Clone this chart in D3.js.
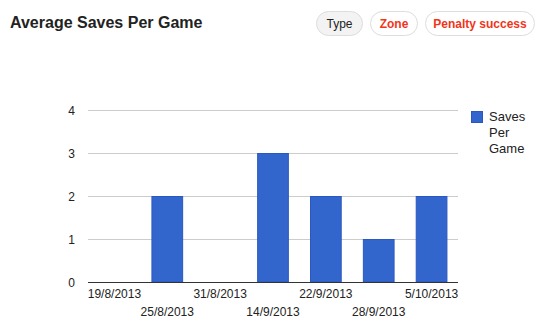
<!DOCTYPE html>
<html>
<head>
<meta charset="utf-8">
<script src="https://cdn.jsdelivr.net/npm/d3@7"></script>
<style>
body { margin:0; background:#fff; font-family: Arial, "Liberation Sans", sans-serif; }
#title { position:absolute; left:10px; top:14px; font-size:16px; font-weight:bold; color:#222; }
.pill { position:absolute; top:11px; height:25px; line-height:24px; border:1px solid #ddd; border-radius:13px;
  font-size:12px; font-weight:bold; text-align:center; background:#fff; color:#f2341b; box-sizing:border-box; }
.pill.on { background:#f3f3f3; color:#222; font-weight:normal; }
</style>
</head>
<body>
<div id="title">Average Saves Per Game</div>
<div class="pill on" style="left:316px;width:47px">Type</div>
<div class="pill" style="left:370px;width:48px">Zone</div>
<div class="pill" style="left:425px;width:110px">Penalty success</div>
<svg id="chart" width="544" height="327" style="position:absolute;left:0;top:0"></svg>

<script>
// chart data
var dates = ["19/8/2013", "25/8/2013", "31/8/2013", "14/9/2013", "22/9/2013", "28/9/2013", "5/10/2013"]
var saves = [0, 2, 0, 3, 2, 1, 2]
var yTicks = [0, 1, 2, 3, 4]
var seriesName = ["Saves", "Per", "Game"]

var svg = d3.select("#chart")
var plotLeft = 88, plotRight = 458, plotTop = 110, plotBottom = 282

var x = d3.scaleBand().domain(dates).range([plotLeft, plotRight]).paddingInner(0.4).paddingOuter(0.2)
var y = d3.scaleLinear().domain([0, 4]).range([plotBottom, plotTop])

// gridlines
svg.selectAll(".grid").data(yTicks).enter().append("line")
	.attr("x1", plotLeft).attr("x2", plotRight)
	.attr("y1", function(d){ return y(d) + 0.5 }).attr("y2", function(d){ return y(d) + 0.5 })
	.attr("stroke", "#ccc")

// y labels
svg.selectAll(".ylab").data(yTicks).enter().append("text")
	.attr("x", 75).attr("y", function(d){ return y(d) + 4.5 })
	.attr("text-anchor", "end")
	.attr("fill", "#222")
	.style("font-size", "12px")
	.text(function(d){ return d })

// bars
svg.selectAll(".bar").data(saves).enter().append("rect")
	.attr("x", function(d,i){ return x(dates[i]) + 0.5 })
	.attr("y", function(d){ return y(d) + 0.5 })
	.attr("width", x.bandwidth() - 1)
	.attr("height", function(d){ return Math.max(0, plotBottom - y(d) - 0.5) })
	.attr("fill", "#3366cc")
	.attr("stroke", "#2a58c0")
	.style("visibility", function(d){ return d > 0 ? "visible" : "hidden" })

// baseline
svg.append("line")
	.attr("x1", plotLeft).attr("x2", plotRight)
	.attr("y1", plotBottom + 0.5).attr("y2", plotBottom + 0.5)
	.attr("stroke", "#333")

// x labels, alternating rows
svg.selectAll(".xlab").data(dates).enter().append("text")
	.attr("x", function(d){ return x(d) + x.bandwidth()/2 })
	.attr("y", function(d,i){ return i % 2 ? 316 : 298 })
	.attr("text-anchor", "middle")
	.attr("fill", "#222")
	.style("font-size", "12px")
	.text(function(d){ return d })

// legend
svg.append("rect")
	.attr("x", 471.5).attr("y", 111.5).attr("width", 11).attr("height", 11)
	.attr("fill", "#3366cc").attr("stroke", "#2a58c0")
svg.selectAll(".leg").data(seriesName).enter().append("text")
	.attr("x", 489).attr("y", function(d,i){ return 121 + i*16 })
	.attr("fill", "#222")
	.style("font-size", "13px")
	.text(function(d){ return d })
</script>
</body>
</html>
